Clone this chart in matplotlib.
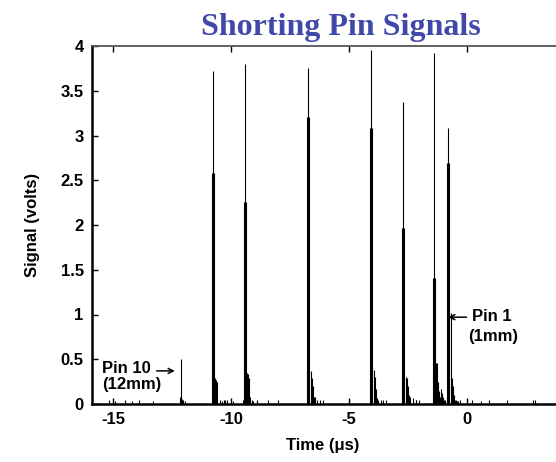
import matplotlib
matplotlib.use("Agg")
import matplotlib.pyplot as plt

# ---- data ----
sample_dt = 0.042  # µs between samples

pulse_start = [-12.15, -10.82, -9.45, -6.76, -4.11, -2.75, -1.44, -0.84]
# sample values of each pulse (volts), starting at pulse_start
pulse_samples = [
    [0.08, 0.50, 0.06, 0.04, 0.0, 0.03],
    [2.58, 3.72, 2.58, 0.29, 0.27, 0.25, 0.0, 0.0, 0.04, 0.0, 0.03, 0.0, 0.0, 0.04],
    [2.26, 3.80, 2.26, 0.35, 0.33, 0.29, 0.08, 0.0, 0.04, 0.03, 0.0, 0.0, 0.0, 0.03],
    [3.21, 3.75, 3.21, 0.0, 0.37, 0.29, 0.20, 0.08, 0.08, 0.0, 0.05, 0.0, 0.0, 0.04, 0.0, 0.0, 0.04],
    [3.08, 3.96, 3.08, 0.0, 0.38, 0.30, 0.17, 0.07, 0.04, 0.0, 0.0, 0.04, 0.0, 0.04, 0.0, 0.0, 0.04],
    [1.97, 3.37, 1.97, 0.0, 0.30, 0.29, 0.20, 0.10, 0.08, 0.0, 0.0, 0.07, 0.0, 0.0, 0.04, 0.0, 0.0, 0.04],
    [1.41, 3.92, 1.41, 0.46, 0.46, 0.25, 0.15, 0.08, 0.17, 0.12, 0.08, 0.05, 0.04],
    [2.69, 3.08, 2.69, 0.0, 1.02, 0.29, 0.20, 0.10, 0.05, 0.04, 0.03, 0.03, 0.0, 0.04],
]
noise_t = [-15.15, -14.9, -14.5, -14.2, -13.9, -13.3, -10.3, -10.15, -9.9, -9.5,
           -8.9, -8.45, -8.0, -5.0, -2.15, 0.2, 0.6, 0.95, 1.7, 2.8, 2.9]
noise_v = [0.04, 0.03, 0.04, 0.03, 0.04, 0.03, 0.04, 0.04, 0.03, 0.05,
           0.04, 0.04, 0.05, 0.05, 0.04, 0.04, 0.03, 0.04, 0.04, 0.04, 0.04]

x_ticks = [-15, -10, -5, 0]
y_ticks = [0, 0.5, 1, 1.5, 2, 2.5, 3, 3.5, 4]
y_ticklabels = ["0", "0.5", "1", "1.5", "2", "2.5", "3", "3.5", "4"]

# ---- figure ----
plt.rcParams['font.family'] = ['Liberation Sans', 'DejaVu Sans']
W, H = 556, 462
fig = plt.figure(figsize=(W / 100, H / 100), dpi=100)
left, right, bottom, top = 92, 556, 404, 46
ax = fig.add_axes([left / W, 1 - bottom / H, (right - left) / W, (bottom - top) / H])

ts, vs = [], []
for t0, samples in zip(pulse_start, pulse_samples):
    for k, v in enumerate(samples):
        if v > 0:
            ts.append(t0 + k * sample_dt)
            vs.append(v)
ax.vlines(ts, 0, vs, colors='black', linewidth=0.8)
ax.vlines(noise_t, 0, noise_v, colors='black', linewidth=0.8)

ax.set_xlim(-15.89, 3.77)
ax.set_ylim(0, 4)
ax.set_xticks(x_ticks)
ax.set_xticklabels([str(v) for v in x_ticks], fontsize=12, fontweight='bold')
ax.set_yticks(y_ticks)
ax.set_yticklabels(y_ticklabels, fontsize=12, fontweight='bold')
ax.tick_params(axis='both', direction='in', length=4, width=1, top=True, right=False, pad=6)

for s in ['left', 'bottom']:
    ax.spines[s].set_linewidth(1.8)
ax.spines['top'].set_linewidth(1.3)
ax.spines['top'].set_color('#555555')
ax.spines['right'].set_visible(False)

ax.set_xlabel('Time (μs)', fontsize=12, fontweight='bold')
ax.xaxis.set_label_coords(0.498, -0.095)
ax.set_ylabel('Signal (volts)', fontsize=12, fontweight='bold')
ax.yaxis.set_label_coords(-0.112, 0.5)

ax.text(-15.47, 0.40, 'Pin 10', fontsize=12, fontweight='bold', ha='left', va='center')
ax.text(-15.47, 0.22, '(12mm)', fontsize=12, fontweight='bold', ha='left', va='center')
ax.annotate('', xy=(-12.38, 0.37), xytext=(-13.15, 0.37),
            arrowprops=dict(arrowstyle='->', lw=1.1, color='black',
                            shrinkA=0, shrinkB=0, mutation_scale=9))
ax.text(0.21, 0.98, 'Pin 1', fontsize=12, fontweight='bold', ha='left', va='center')
ax.text(0.04, 0.75, '(1mm)', fontsize=12, fontweight='bold', ha='left', va='center')
ax.annotate('', xy=(-0.80, 0.97), xytext=(-0.02, 0.97),
            arrowprops=dict(arrowstyle='->', lw=1.1, color='black',
                            shrinkA=0, shrinkB=0, mutation_scale=9))

fig.text(0.613, 0.940, 'Shorting Pin Signals', family='Liberation Serif', fontsize=23,
         fontweight='bold', color='#4049A9', ha='center', va='center')

fig.savefig('out.png', dpi=100)
